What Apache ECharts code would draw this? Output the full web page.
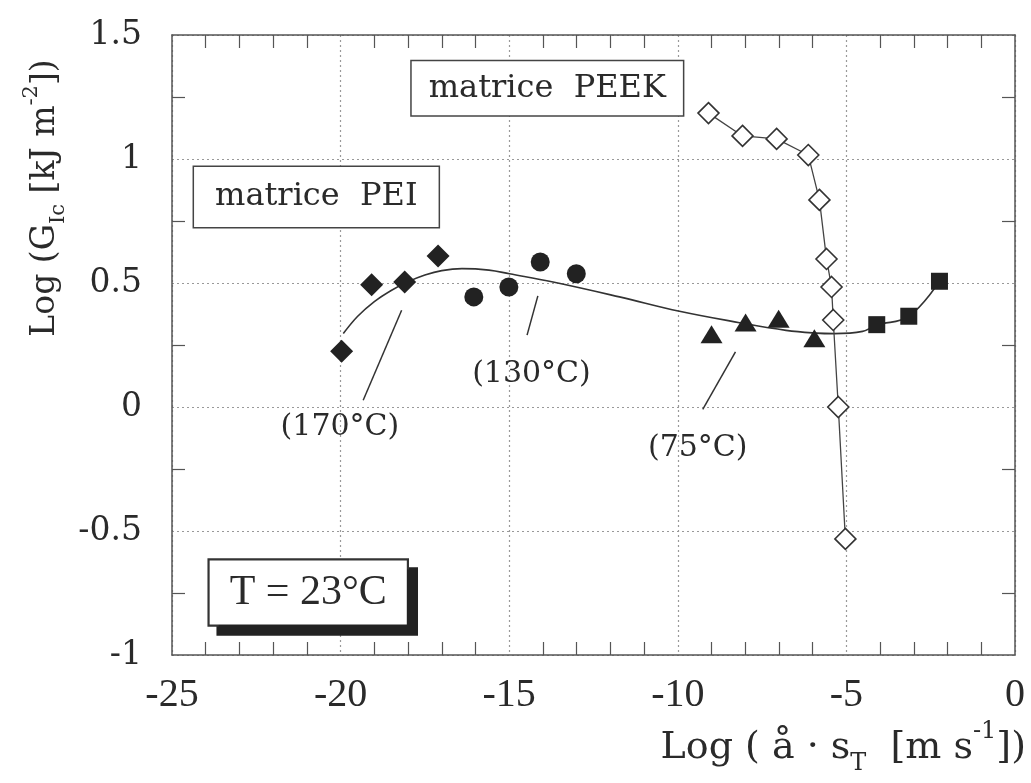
<!DOCTYPE html>
<html>
<head>
<meta charset="UTF-8">
<title>Log GIc - matrice PEI / PEEK</title>
<script src="https://cdn.jsdelivr.net/npm/echarts@6/dist/echarts.min.js"></script>
<style>
  html, body { margin: 0; background: #fff; }
  #chart { width: 1031px; height: 783px; }
</style>
</head>
<body>
<div id="chart"></div>
<script>
// axis ranges / tick labels
const xTicks = [-25, -20, -15, -10, -5, 0];
const yTicks = [-1, -0.5, 0, 0.5, 1, 1.5];

// matrice PEI, one set per test temperature
const pei170 = [[-19.97, 0.225], [-19.08, 0.493], [-18.10, 0.504], [-17.11, 0.609]];
const pei130 = [[-16.05, 0.444], [-15.01, 0.484], [-14.08, 0.585], [-13.01, 0.537]];
const pei75 = [[-9.00, 0.293], [-7.99, 0.341], [-7.01, 0.356], [-5.95, 0.277]];
const pei23 = [[-4.10, 0.332], [-3.15, 0.366], [-2.24, 0.507]];

// master curve drawn through the PEI points
const peiCurve = [
  [-19.92, 0.296], [-19.5, 0.365], [-19.0, 0.425], [-18.5, 0.470], [-18.0, 0.505],
  [-17.5, 0.532], [-17.0, 0.550], [-16.4, 0.558], [-15.6, 0.552], [-14.99, 0.537],
  [-13.70, 0.504], [-11.73, 0.444], [-9.95, 0.386], [-8.17, 0.340], [-6.79, 0.309],
  [-5.90, 0.298], [-5.36, 0.296], [-4.52, 0.305], [-4.10, 0.330], [-3.15, 0.366],
  [-2.24, 0.507]
];

// matrice PEEK, T = 23°C
const peek = [
  [-9.09, 1.185], [-8.08, 1.093], [-7.07, 1.081], [-6.13, 1.016], [-5.80, 0.835],
  [-5.59, 0.597], [-5.44, 0.484], [-5.39, 0.351], [-5.24, 0.000], [-5.03, -0.532]
];

// temperature call-outs: label position and leader line
const tempLabels = ['(170°C)', '(130°C)', '(75°C)'];
const tempLabelPos = [[-20.02, -0.08], [-14.34, 0.134], [-9.41, -0.168]];
const leaders = [
  [[-19.33, 0.027], [-18.19, 0.39]],
  [[-14.47, 0.29], [-14.15, 0.448]],
  [[-9.26, -0.01], [-8.29, 0.222]]
];

// boxed notes
const boxTexts = ['matrice  PEEK', 'matrice  PEI', 'T = 23°C'];
const boxPos = [[-13.87, 1.285], [-20.72, 0.847], [-20.96, -0.748]];

const ink = '#222';
const axisColor = '#555';

function axisBase(extra) {
  return Object.assign({
    type: 'value',
    axisLine: { show: true, onZero: false, lineStyle: { color: axisColor, width: 1.5 } },
    axisTick: { show: false, inside: true },
    minorSplitLine: { show: false }
  }, extra);
}

const chart = echarts.init(document.getElementById('chart'));

const labelSeries = tempLabels.map((t, i) => ({ name: t, value: tempLabelPos[i] }));

const boxStyles = [
  { fontFamily: 'DejaVu Serif', fontSize: 32, lineHeight: 36, padding: [9, 17] },
  { fontFamily: 'DejaVu Serif', fontSize: 32, lineHeight: 36, padding: [12, 21] },
  { fontFamily: 'Liberation Serif', fontSize: 42, lineHeight: 44, padding: [10, 20],
    shadowColor: '#222', shadowOffsetX: 9, shadowOffsetY: 9, shadowBlur: 0, borderWidth: 2.2, borderColor: '#333' }
];

const option = {
  animation: false,
  backgroundColor: '#fff',
  grid: { left: 172, right: 16, top: 35, bottom: 128 },
  xAxis: [
    axisBase({
      position: 'bottom', min: xTicks[0], max: xTicks[xTicks.length - 1], interval: 5,
      minorTick: { show: true, splitNumber: 5, length: 13, lineStyle: { color: axisColor, width: 1.2 } },
      axisLabel: { fontFamily: 'Liberation Serif', fontSize: 40, color: '#2a2a2a', margin: 20 },
      splitLine: { show: true, lineStyle: { type: [2, 3], color: '#999', width: 1.2 } }
    }),
    axisBase({
      position: 'top', min: xTicks[0], max: xTicks[xTicks.length - 1], interval: 5,
      minorTick: { show: true, splitNumber: 5, length: 13, lineStyle: { color: axisColor, width: 1.2 } },
      axisLabel: { show: false }, splitLine: { show: false }
    })
  ],
  yAxis: [
    axisBase({
      position: 'left', min: yTicks[0], max: yTicks[yTicks.length - 1], interval: 0.5,
      minorTick: { show: true, splitNumber: 2, length: 13, lineStyle: { color: axisColor, width: 1.2 } },
      axisLabel: { fontFamily: 'DejaVu Serif', fontSize: 33, color: '#2a2a2a', margin: 30 },
      splitLine: { show: true, lineStyle: { type: [2, 3], color: '#999', width: 1.2 } }
    }),
    axisBase({
      position: 'right', min: yTicks[0], max: yTicks[yTicks.length - 1], interval: 0.5,
      minorTick: { show: true, splitNumber: 2, length: 13, lineStyle: { color: axisColor, width: 1.2 } },
      axisLabel: { show: false }, splitLine: { show: false }
    })
  ],
  graphic: [
    {
      type: 'text', x: 45, y: 198, rotation: Math.PI / 2,
      style: {
        text: '{m|Log (G}{s|Ic}{m| [kJ m}{p|-2}{m|])}',
        align: 'center', verticalAlign: 'middle', fill: '#2a2a2a',
        rich: {
          m: { fontFamily: 'DejaVu Serif', fontSize: 33, lineHeight: 48, verticalAlign: 'middle', fill: '#2a2a2a' },
          s: { fontFamily: 'DejaVu Serif', fontSize: 21, lineHeight: 21, verticalAlign: 'bottom', fill: '#2a2a2a' },
          p: { fontFamily: 'DejaVu Serif', fontSize: 21, lineHeight: 21, verticalAlign: 'top', fill: '#2a2a2a' }
        }
      }
    },
    {
      type: 'text', x: 1026, y: 748,
      style: {
        text: '{m|Log ( å · s}{s|T}{m|  [m s}{p|-1}{m|])}',
        align: 'right', verticalAlign: 'middle', fill: '#2a2a2a',
        rich: {
          m: { fontFamily: 'DejaVu Serif', fontSize: 38, lineHeight: 56, verticalAlign: 'middle', fill: '#2a2a2a' },
          s: { fontFamily: 'DejaVu Serif', fontSize: 24, lineHeight: 24, verticalAlign: 'bottom', fill: '#2a2a2a' },
          p: { fontFamily: 'DejaVu Serif', fontSize: 24, lineHeight: 24, verticalAlign: 'top', fill: '#2a2a2a' }
        }
      }
    }
  ],
  series: [
    {
      type: 'line', data: peiCurve, smooth: 0.4, symbol: 'none', z: 2,
      lineStyle: { color: '#333', width: 1.6 }
    },
    ...leaders.map(l => ({
      type: 'line', data: l, symbol: 'none', z: 2,
      lineStyle: { color: '#333', width: 1.5 }
    })),
    {
      type: 'line', data: peek, symbol: 'diamond', symbolSize: 21, showSymbol: true, z: 4,
      lineStyle: { color: '#444', width: 1.3 },
      itemStyle: { color: '#fff', borderColor: '#333', borderWidth: 1.6, opacity: 1 }
    },
    { type: 'scatter', data: pei170, symbol: 'diamond', symbolSize: 23, z: 5, itemStyle: { color: ink, opacity: 1 } },
    { type: 'scatter', data: pei130, symbol: 'circle', symbolSize: 19, z: 5, itemStyle: { color: ink, opacity: 1 } },
    { type: 'scatter', data: pei75, symbol: 'triangle', symbolSize: [22, 18], z: 5, itemStyle: { color: ink, opacity: 1 } },
    { type: 'scatter', data: pei23, symbol: 'rect', symbolSize: 17, z: 5, itemStyle: { color: ink, opacity: 1 } },
    {
      type: 'scatter', data: labelSeries, symbolSize: 0, z: 6, silent: true,
      itemStyle: { opacity: 1 },
      label: { show: true, position: 'inside', formatter: '{b}', fontFamily: 'DejaVu Serif', fontSize: 30, color: '#2a2a2a' }
    },
    ...boxTexts.map((t, i) => ({
      type: 'scatter', data: [{ name: t, value: boxPos[i] }], symbolSize: 0, z: 7, silent: true,
      itemStyle: { opacity: 1 },
      label: Object.assign({
        show: true, position: 'inside', formatter: '{b}', color: '#2a2a2a',
        backgroundColor: '#fff', borderColor: '#444', borderWidth: 1.5
      }, boxStyles[i])
    }))
  ]
};

chart.setOption(option);
</script>
</body>
</html>
